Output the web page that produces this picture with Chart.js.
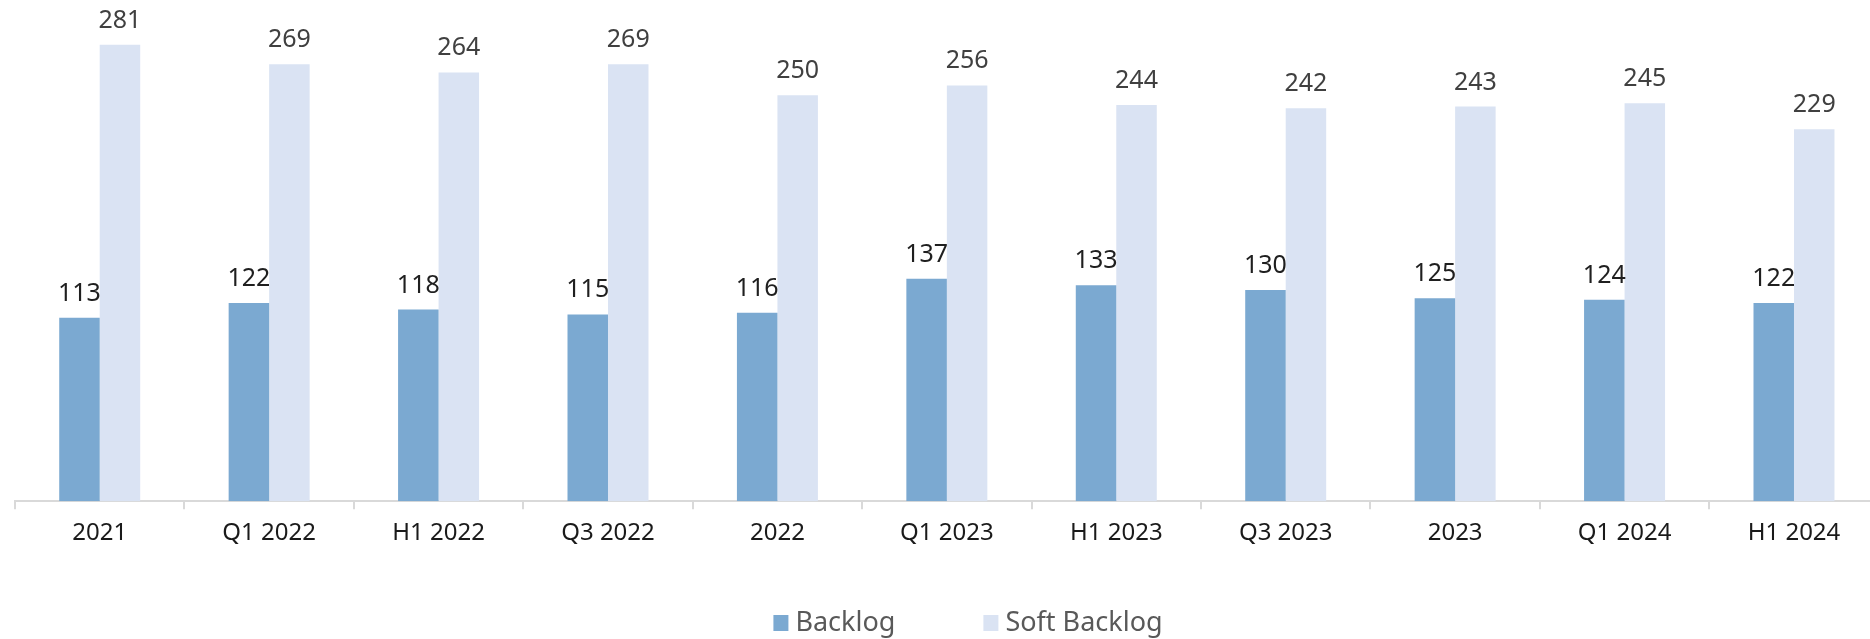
<!DOCTYPE html>
<html>
<head>
<meta charset="utf-8">
<title>Backlog</title>
<script src="https://cdn.jsdelivr.net/npm/chart.js@4.4.1/dist/chart.umd.min.js"></script>
<style>
  html, body { margin: 0; padding: 0; background: #fff; overflow: hidden; }
  #wrap { position: relative; width: 1880px; height: 639px; }
</style>
</head>
<body>
<div id="wrap"><canvas id="bieuDoBacklog"></canvas></div>
<script>
// Dữ liệu biểu đồ
const periods = ["2021", "Q1 2022", "H1 2022", "Q3 2022", "2022", "Q1 2023", "H1 2023", "Q3 2023", "2023", "Q1 2024", "H1 2024"];
const backlog = [113, 122, 118, 115, 116, 137, 133, 130, 125, 124, 122];
const softBacklog = [281, 269, 264, 269, 250, 256, 244, 242, 243, 245, 229];

const FONT = "'Noto Sans', 'Open Sans', sans-serif";

// Số liệu phía trên cột
const valueLabels = {
  id: "valueLabels",
  afterDatasetsDraw(chart) {
    const ctx = chart.ctx;
    ctx.save();
    ctx.font = "25px " + FONT;
    ctx.textAlign = "center";
    ctx.textBaseline = "alphabetic";
    chart.data.datasets.forEach((ds, i) => {
      const meta = chart.getDatasetMeta(i);
      ctx.fillStyle = ds.labelColor;
      meta.data.forEach((bar, j) => {
        ctx.fillText(String(ds.data[j]), bar.x, bar.y - 17);
      });
    });
    ctx.restore();
  },
};

// Chú thích ở dưới
const bottomLegend = {
  id: "bottomLegend",
  afterDraw(chart) {
    const ctx = chart.ctx;
    const box = 15, gapText = 7, gapItem = 88, centerX = 968, baseY = 631;
    ctx.save();
    ctx.font = "27px " + FONT;
    const items = chart.data.datasets.map((ds) => ({
      text: ds.label,
      color: ds.backgroundColor,
      w: box + gapText + ctx.measureText(ds.label).width,
    }));
    const total = items.reduce((s, it) => s + it.w, 0) + gapItem * (items.length - 1);
    let x = centerX - total / 2;
    ctx.textBaseline = "alphabetic";
    items.forEach((it) => {
      ctx.fillStyle = it.color;
      ctx.fillRect(x, baseY - 16, box, 16);
      ctx.fillStyle = "#595959";
      ctx.fillText(it.text, x + box + gapText, baseY);
      x += it.w + gapItem;
    });
    ctx.restore();
  },
};

new Chart(document.getElementById("bieuDoBacklog"), {
  type: "bar",
  data: {
    labels: periods,
    datasets: [
      {
        label: "Backlog",
        data: backlog,
        backgroundColor: "#7BA9D1",
        labelColor: "#1f1f1f",
        barPercentage: 1,
        categoryPercentage: 0.478,
      },
      {
        label: "Soft Backlog",
        data: softBacklog,
        backgroundColor: "#DAE3F3",
        labelColor: "#404040",
        barPercentage: 1,
        categoryPercentage: 0.478,
      },
    ],
  },
  options: {
    responsive: true,
    maintainAspectRatio: false,
    animation: false,
    layout: { padding: { left: 15, right: 1.3, top: 14, bottom: 81 } },
    plugins: {
      legend: { display: false },
      tooltip: { enabled: false },
    },
    scales: {
      x: {
        grid: {
          display: true,
          offset: true,
          drawOnChartArea: false,
          drawTicks: true,
          tickLength: 8,
          color: "#D9D9D9",
          lineWidth: 2,
        },
        border: { display: true, color: "#D9D9D9", width: 2 },
        ticks: {
          color: "#1a1a1a",
          font: { family: FONT, size: 24 },
          padding: 10,
          maxRotation: 0,
          autoSkip: false,
        },
      },
      y: {
        display: false,
        min: 0,
        max: 300,
      },
    },
  },
  plugins: [valueLabels, bottomLegend],
});
</script>
</body>
</html>
